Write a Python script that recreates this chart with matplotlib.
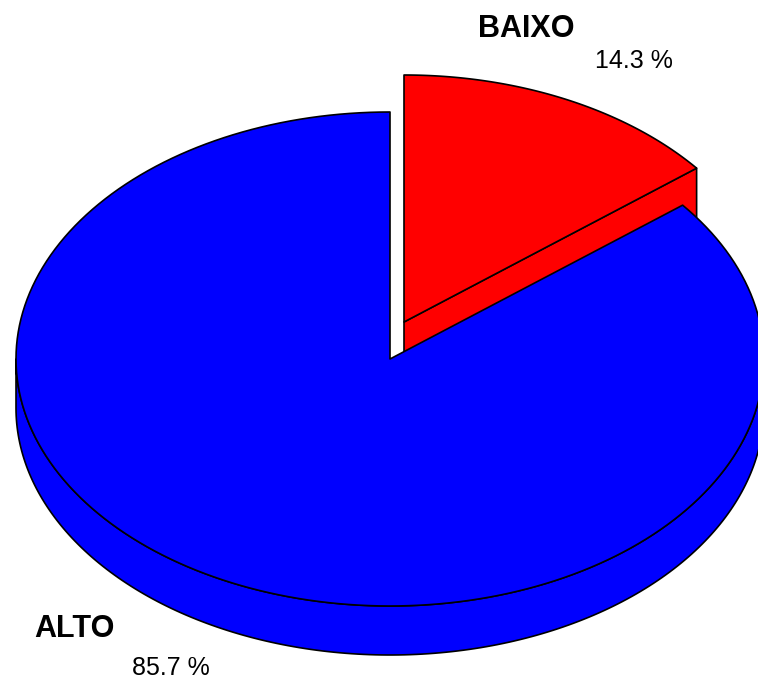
import matplotlib.pyplot as plt
import numpy as np
from matplotlib.patches import Polygon

# Data
labels = ['ALTO', 'BAIXO']
shares = [85.7, 14.3]
colors = ['#0000ff', '#ff0000']

# 3D pie geometry (pixel units)
cx, cy = 390, 359       # centre of the top face
rx, ry = 374, 247       # ellipse radii of the top face
depth = 49              # thickness of the disc
pull = (14, -37)        # offset of the exploded BAIXO slice

fig = plt.figure(figsize=(7.58, 6.80), dpi=100)
ax = fig.add_axes([0, 0, 1, 1])
ax.set_xlim(0, 758)
ax.set_ylim(680, 0)
ax.axis('off')

def arc(t0, t1, ox=0, oy=0, dz=0, n=200):
    t = np.radians(np.linspace(t0, t1, n))
    return np.column_stack([cx + ox + rx * np.cos(t), cy + oy - ry * np.sin(t) + dz])

edge = dict(edgecolor='black', linewidth=1.2, joinstyle='round')

# slice angles: start at 12 o'clock, go clockwise
t_start = 90
t_split = t_start - shares[1] / 100 * 360   # BAIXO end / ALTO start
t_end = t_start - 360

# BAIXO (exploded): radial cut face, then top face
ox, oy = pull
apex = np.array([cx + ox, cy + oy])
p_end = arc(t_split, t_split, ox, oy, n=1)[0]
cut = np.array([apex, p_end, p_end + [0, depth], apex + [0, depth]])
ax.add_patch(Polygon(cut, closed=True, facecolor=colors[1], **edge))
top_red = np.vstack([apex, arc(t_start, t_split, ox, oy)])
ax.add_patch(Polygon(top_red, closed=True, facecolor=colors[1], **edge))

# ALTO: front side band, then top face
front_top = arc(180, 360)
front_bot = arc(360, 180, dz=depth)
ax.add_patch(Polygon(np.vstack([front_top, front_bot]), closed=True,
                     facecolor=colors[0], **edge))
top_blue = np.vstack([[cx, cy], arc(t_split, t_end)])
ax.add_patch(Polygon(top_blue, closed=True, facecolor=colors[0], **edge))

# Labels
font = 'Liberation Sans'
ax.text(526, 37, labels[1], fontsize=22, fontweight='bold', family=font,
        ha='center', va='baseline')
ax.text(634, 68, f'{shares[1]:.1f} %', fontsize=18, family=font,
        ha='center', va='baseline')
ax.text(74, 637, labels[0], fontsize=22, fontweight='bold', family=font,
        ha='center', va='baseline')
ax.text(171, 675, f'{shares[0]:.1f} %', fontsize=18, family=font,
        ha='center', va='baseline')

fig.savefig('out.png', dpi=100)
